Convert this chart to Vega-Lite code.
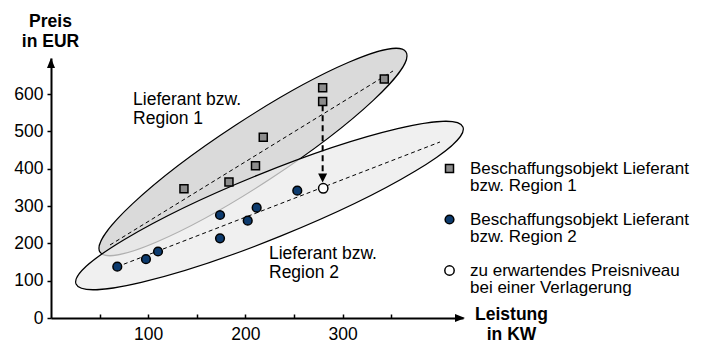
{
  "$schema": "https://vega.github.io/schema/vega-lite/v6.json",
  "width": 412,
  "height": 260,
  "autosize": {"type": "none"},
  "padding": {"left": 51, "top": 58, "right": 245, "bottom": 32},
  "background": "white",
  "config": {
    "font": "Liberation Sans",
    "view": {"stroke": null},
    "axis": {"grid": false},
    "style": {"guide-label": {"lineHeight": 17.5}}
  },
  "datasets": {
    "ellipsen": [
      {"x": 207.8, "y": 445, "e": "R1"},
      {"x": 224.8, "y": 301.6, "e": "R2"}
    ],
    "linien": [
      {"linie": "R1", "x": 60.7, "y": 195.7},
      {"linie": "R1", "x": 351.9, "y": 662.2},
      {"linie": "R2", "x": 68.2, "y": 137.5},
      {"linie": "R2", "x": 400.2, "y": 471.8}
    ],
    "pfeil": [{"x": 279.5, "y": 570, "y2": 388}],
    "spitze": [{"x": 279.5, "y": 375}],
    "punkte": [
      {"typ": "Beschaffungsobjekt Lieferant|bzw. Region 1", "x": 136.8, "y": 346.6},
      {"typ": "Beschaffungsobjekt Lieferant|bzw. Region 1", "x": 183.1, "y": 364.6},
      {"typ": "Beschaffungsobjekt Lieferant|bzw. Region 1", "x": 210.4, "y": 408.3},
      {"typ": "Beschaffungsobjekt Lieferant|bzw. Region 1", "x": 218.4, "y": 484.4},
      {"typ": "Beschaffungsobjekt Lieferant|bzw. Region 1", "x": 279.5, "y": 580.4},
      {"typ": "Beschaffungsobjekt Lieferant|bzw. Region 1", "x": 279.5, "y": 617.4},
      {"typ": "Beschaffungsobjekt Lieferant|bzw. Region 1", "x": 342.9, "y": 640.5},
      {"typ": "Beschaffungsobjekt Lieferant|bzw. Region 2", "x": 68.2, "y": 137.5},
      {"typ": "Beschaffungsobjekt Lieferant|bzw. Region 2", "x": 97.7, "y": 157.7},
      {"typ": "Beschaffungsobjekt Lieferant|bzw. Region 2", "x": 110.1, "y": 178.3},
      {"typ": "Beschaffungsobjekt Lieferant|bzw. Region 2", "x": 173.9, "y": 276.1},
      {"typ": "Beschaffungsobjekt Lieferant|bzw. Region 2", "x": 173.9, "y": 213.7},
      {"typ": "Beschaffungsobjekt Lieferant|bzw. Region 2", "x": 202.4, "y": 260.9},
      {"typ": "Beschaffungsobjekt Lieferant|bzw. Region 2", "x": 211.6, "y": 295.7},
      {"typ": "Beschaffungsobjekt Lieferant|bzw. Region 2", "x": 253.4, "y": 341.3},
      {"typ": "zu erwartendes Preisniveau|bei einer Verlagerung", "x": 280.1, "y": 347.7}
    ],
    "texte": [
      {"x": 84.4, "y": 571, "t": "Lieferant bzw.|Region 1"},
      {"x": 224.3, "y": 158.2, "t": "Lieferant bzw.|Region 2"}
    ],
    "achsen": [
      {"x": 420.8, "y": 0, "a": "x"},
      {"x": 0, "y": 683.6, "a": "y"}
    ]
  },
  "encoding": {
    "x": {
      "field": "x", "type": "quantitative",
      "scale": {"domain": [0, 423.9], "nice": false, "zero": false},
      "axis": {
        "values": [50, 100, 150, 200, 250, 300, 350],
        "labelExpr": "datum.value % 100 === 0 ? datum.label : ''",
        "title": ["Leistung", "in KW"],
        "titleX": 460, "titleY": 1, "titleAlign": "center", "titleBaseline": "alphabetic",
        "titleFontSize": 17.5, "titleFontWeight": "bold", "titleLineHeight": 20, "titleColor": "black",
        "domainColor": "black", "domainWidth": 2,
        "tickColor": "black", "tickWidth": 1.5, "tickSize": -4,
        "labelFontSize": 17.5, "labelColor": "black", "labelPadding": 11,
        "labelFlush": false, "labelOverlap": false
      }
    },
    "y": {
      "field": "y", "type": "quantitative",
      "scale": {"domain": [0, 697], "nice": false, "zero": false},
      "axis": {
        "values": [0, 100, 200, 300, 400, 500, 600],
        "title": ["Preis", "in EUR"],
        "titleAngle": 0, "titleX": -1, "titleY": -32, "titleAlign": "center", "titleBaseline": "alphabetic",
        "titleFontSize": 17.5, "titleFontWeight": "bold", "titleLineHeight": 20, "titleColor": "black",
        "domainColor": "black", "domainWidth": 2,
        "tickColor": "black", "tickWidth": 1.5, "tickSize": 4,
        "labelFontSize": 17.5, "labelColor": "black", "labelPadding": 4,
        "labelFlush": false, "labelOverlap": false
      }
    }
  },
  "layer": [
    {
      "data": {"name": "ellipsen"},
      "transform": [{"filter": "datum.e === 'R1'"}],
      "mark": {
        "type": "point", "filled": true, "fill": "#dadada", "fillOpacity": 1, "stroke": "black", "strokeWidth": 1.2, "opacity": 1,
        "shape": "M-1,0C-1,-0.0967,-0.5523,-0.175,0,-0.175C0.5523,-0.175,1,-0.0967,1,0C1,0.0967,0.5523,0.175,0,0.175C-0.5523,0.175,-1,0.0967,-1,0Z",
        "size": 133663, "angle": 326.8
      }
    },
    {
      "data": {"name": "ellipsen"},
      "transform": [{"filter": "datum.e === 'R2'"}],
      "mark": {
        "type": "point", "filled": true, "fill": "#ebebeb", "fillOpacity": 0.75, "stroke": "black", "strokeWidth": 1.2, "opacity": 1,
        "shape": "M-1,0C-1,-0.086,-0.5523,-0.1557,0,-0.1557C0.5523,-0.1557,1,-0.086,1,0C1,0.086,0.5523,0.1557,0,0.1557C-0.5523,0.1557,-1,0.086,-1,0Z",
        "size": 174390, "angle": 337.9
      }
    },
    {
      "data": {"name": "linien"},
      "mark": {"type": "line", "color": "black", "strokeWidth": 1, "strokeDash": [4, 3]},
      "encoding": {"detail": {"field": "linie"}}
    },
    {
      "data": {"name": "pfeil"},
      "mark": {"type": "rule", "color": "black", "strokeWidth": 2, "strokeDash": [6, 4]},
      "encoding": {"y2": {"field": "y2"}}
    },
    {
      "data": {"name": "spitze"},
      "mark": {"type": "point", "filled": true, "fill": "black", "stroke": null, "opacity": 1, "shape": "M-1,-1L1,-1L0,1Z", "size": 81}
    },
    {
      "data": {"name": "punkte"},
      "mark": {"type": "point", "filled": true, "strokeWidth": 1.5, "opacity": 1},
      "encoding": {
        "fill": {
          "field": "typ", "type": "nominal",
          "scale": {
            "domain": ["Beschaffungsobjekt Lieferant|bzw. Region 1", "Beschaffungsobjekt Lieferant|bzw. Region 2", "zu erwartendes Preisniveau|bei einer Verlagerung"],
            "range": ["#8c8c8c", "#0d3b6e", "#ffffff"]
          },
          "legend": {
            "title": null, "orient": "none", "legendX": 390, "legendY": 102, "padding": 0,
            "labelExpr": "split(datum.label, '|')", "labelFontSize": 17, "labelLimit": 400,
            "labelColor": "black", "labelOffset": 12, "rowPadding": 16,
            "symbolStrokeWidth": 1.5
          }
        },
        "stroke": {
          "field": "typ", "type": "nominal",
          "scale": {
            "domain": ["Beschaffungsobjekt Lieferant|bzw. Region 1", "Beschaffungsobjekt Lieferant|bzw. Region 2", "zu erwartendes Preisniveau|bei einer Verlagerung"],
            "range": ["black", "black", "black"]
          },
          "legend": {
            "title": null, "orient": "none", "legendX": 390, "legendY": 102, "padding": 0,
            "labelExpr": "split(datum.label, '|')", "labelFontSize": 17, "labelLimit": 400,
            "labelColor": "black", "labelOffset": 12, "rowPadding": 16,
            "symbolStrokeWidth": 1.5
          }
        },
        "shape": {
          "field": "typ", "type": "nominal",
          "scale": {
            "domain": ["Beschaffungsobjekt Lieferant|bzw. Region 1", "Beschaffungsobjekt Lieferant|bzw. Region 2", "zu erwartendes Preisniveau|bei einer Verlagerung"],
            "range": ["square", "circle", "circle"]
          },
          "legend": {
            "title": null, "orient": "none", "legendX": 390, "legendY": 102, "padding": 0,
            "labelExpr": "split(datum.label, '|')", "labelFontSize": 17, "labelLimit": 400,
            "labelColor": "black", "labelOffset": 12, "rowPadding": 16,
            "symbolStrokeWidth": 1.5
          }
        },
        "size": {
          "field": "typ", "type": "nominal",
          "scale": {
            "domain": ["Beschaffungsobjekt Lieferant|bzw. Region 1", "Beschaffungsobjekt Lieferant|bzw. Region 2", "zu erwartendes Preisniveau|bei einer Verlagerung"],
            "range": [64, 88, 90]
          },
          "legend": {
            "title": null, "orient": "none", "legendX": 390, "legendY": 102, "padding": 0,
            "labelExpr": "split(datum.label, '|')", "labelFontSize": 17, "labelLimit": 400,
            "labelColor": "black", "labelOffset": 12, "rowPadding": 16,
            "symbolStrokeWidth": 1.5
          }
        }
      }
    },
    {
      "data": {"name": "texte"},
      "mark": {"type": "text", "align": "left", "baseline": "alphabetic", "fontSize": 17.5, "lineHeight": 19, "lineBreak": "|", "color": "black"},
      "encoding": {"text": {"field": "t"}}
    },
    {
      "data": {"name": "achsen"},
      "transform": [{"filter": "datum.a === 'x'"}],
      "mark": {"type": "point", "filled": true, "fill": "black", "stroke": null, "opacity": 1, "shape": "M-1,-0.8L1,0L-1,0.8Z", "size": 100}
    },
    {
      "data": {"name": "achsen"},
      "transform": [{"filter": "datum.a === 'y'"}],
      "mark": {"type": "point", "filled": true, "fill": "black", "stroke": null, "opacity": 1, "shape": "M-0.8,1L0,-1L0.8,1Z", "size": 100}
    }
  ]
}
